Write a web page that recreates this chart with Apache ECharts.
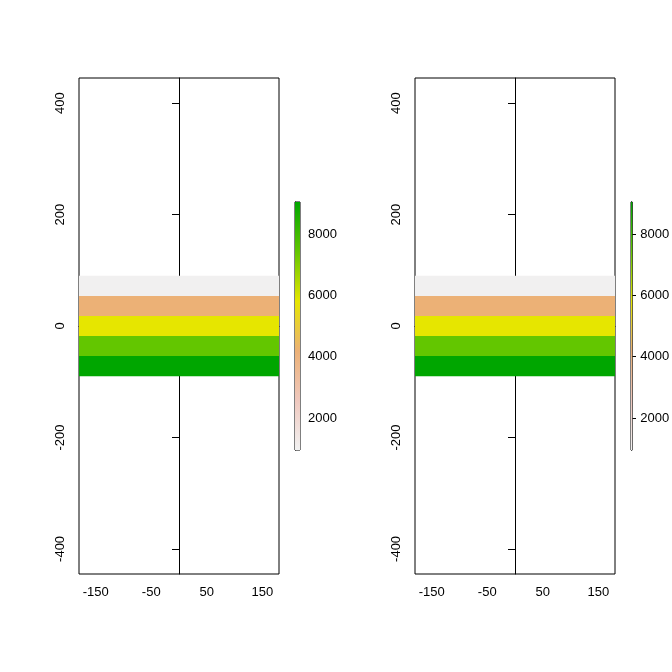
<!DOCTYPE html>
<html><head><meta charset="utf-8">
<script src="https://cdn.jsdelivr.net/npm/echarts@6/dist/echarts.min.js"></script>
<style>html,body{margin:0;padding:0;background:#fff}#c{width:672px;height:672px}</style>
</head><body><div id="c"></div>
<script>
const bandLo = [54, 18, -18, -54, -90];
const bandHi = [90, 54, 18, -18, -54];
const bandVal = [1000, 3000, 5000, 7000, 9000];
const bandColors = ['#F1F0F0', '#ECB176', '#E6E600', '#63C600', '#00A600'];
const xTicks = [-150, -100, -50, 0, 50, 100, 150];
const xLabels = [-150, -50, 50, 150];
const yTicks = [-400, -200, 0, 200, 400];
const cbTicks = [2000, 4000, 6000, 8000];
const cbMin = 957, cbMax = 9043;
const cbColors = ['#F2F2F2', '#EFC8BE', '#ECB176', '#E6E600', '#63C600', '#00A600'];

const font = {fontFamily: 'Liberation Sans, Arial, sans-serif', fontSize: 13, color: '#000'};
const data = bandVal.map((v, i) => [bandLo[i], bandHi[i], v, i]);
const grids = [], xAxes = [], yAxes = [], series = [];
const tickLine = {show: true, lineStyle: {color: '#000', width: 1}};
[0, 336].forEach((off, g) => {
  grids.push({left: 79+off, top: 78, width: 200, height: 496, show: true, borderColor: '#000', borderWidth: 1, backgroundColor: 'transparent'});
  grids.push({left: 295+off, top: 202, width: 5, height: 248, show: true, borderColor: '#000', borderWidth: 1, backgroundColor: 'transparent'});
  const gi = g*2;
  xAxes.push({gridIndex: gi, type: 'value', min: -180, max: 180, splitLine: {show: false},
    axisLine: tickLine, axisTick: {show: true, length: 7, customValues: xTicks, lineStyle: {color: '#000'}},
    axisLabel: Object.assign({customValues: xLabels, margin: 12}, font)});
  yAxes.push({gridIndex: gi, type: 'value', min: -445, max: 445, splitLine: {show: false},
    axisLine: tickLine, axisTick: {show: true, length: 7, customValues: yTicks, lineStyle: {color: '#000'}},
    axisLabel: Object.assign({customValues: yTicks, rotate: 90, margin: 12}, font)});
  xAxes.push({gridIndex: gi+1, type: 'value', min: 0, max: 1, show: false});
  yAxes.push({gridIndex: gi+1, type: 'value', min: cbMin, max: cbMax, position: 'right', splitLine: {show: false},
    axisLine: tickLine, axisTick: {show: true, length: 5, customValues: cbTicks, lineStyle: {color: '#000'}},
    axisLabel: Object.assign({customValues: cbTicks, margin: 8, formatter: v => String(v)}, font)});
  series.push({type: 'custom', xAxisIndex: gi, yAxisIndex: gi, data: data, silent: true,
    renderItem: (p, api) => {
      const a = api.coord([-180, api.value(1)]), b = api.coord([180, api.value(0)]);
      return {type: 'rect', shape: {x: a[0], y: a[1], width: b[0]-a[0], height: b[1]-a[1]},
        style: {fill: bandColors[api.value(3)]}};
    }});
  series.push({type: 'custom', xAxisIndex: gi+1, yAxisIndex: gi+1, data: [[cbMin, cbMax]], silent: true,
    renderItem: (p, api) => {
      const cs = p.coordSys;
      return {type: 'rect', shape: {x: cs.x, y: cs.y, width: cs.width, height: cs.height},
        style: {fill: new echarts.graphic.LinearGradient(0, 1, 0, 0,
          cbColors.map((c, i) => ({offset: i/(cbColors.length-1), color: c})))}};
    }});
});
const chart = echarts.init(document.getElementById('c'));
chart.setOption({animation: false, grid: grids, xAxis: xAxes, yAxis: yAxes, series: series});
</script></body></html>
